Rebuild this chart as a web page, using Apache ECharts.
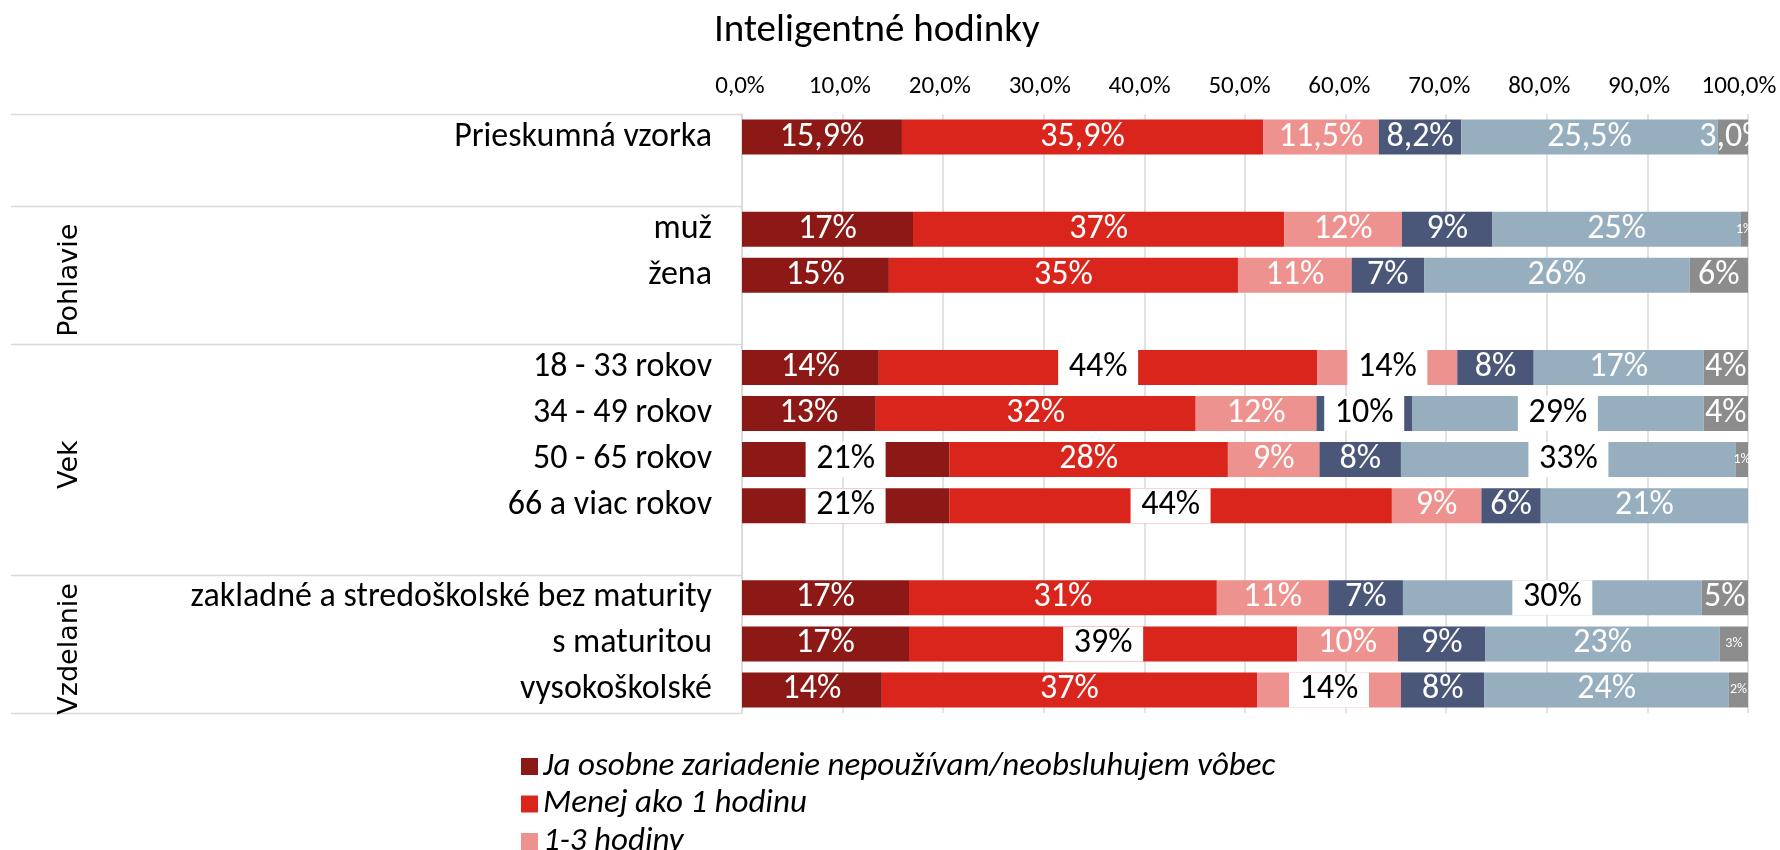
<!DOCTYPE html>
<html>
<head>
<meta charset="utf-8">
<script src="https://cdn.jsdelivr.net/npm/echarts@6/dist/echarts.min.js"></script>
<style>
    html, body {margin: 0; padding: 0; background: #fff;}
    #main {width: 1780px; height: 850px;}
</style>
</head>
<body>
<div id="main"></div>
<script>
// kategorie (prazdne riadky oddeluju skupiny)
var categories = ['Prieskumná vzorka', '', 'muž', 'žena', '', '18 - 33 rokov', '34 - 49 rokov',
    '50 - 65 rokov', '66 a viac rokov', '', 'zakladné a stredoškolské bez maturity', 's maturitou', 'vysokoškolské'];

var seriesNames = ['Ja osobne zariadenie nepoužívam/neobsluhujem vôbec', 'Menej ako 1 hodinu', '1-3 hodiny',
    '3-5 hodín', 'Viac ako 5 hodín', 'Neviem'];

// hodnoty v %
var nepouzivam = [15.9, null, 17.0, 14.6, null, 13.6, 13.3, 20.6, 20.6, null, 16.6, 16.6, 13.9];
var menej1 = [35.9, null, 36.9, 34.7, null, 43.6, 31.8, 27.7, 44.0, null, 30.6, 38.6, 37.3];
var hodiny13 = [11.5, null, 11.7, 11.3, null, 13.9, 12.0, 9.1, 8.9, null, 11.1, 10.0, 14.3];
var hodiny35 = [8.2, null, 9.0, 7.2, null, 7.6, 9.5, 8.1, 5.9, null, 7.4, 8.7, 8.3];
var viac5 = [25.5, null, 24.7, 26.4, null, 16.9, 29.0, 33.3, 20.6, null, 29.7, 23.3, 24.3];
var neviem = [3.0, null, 0.7, 5.8, null, 4.4, 4.4, 1.2, 0, null, 4.6, 2.8, 1.9];

var xTicks = [0, 10, 20, 30, 40, 50, 60, 70, 80, 90, 100];

// skupiny: nazov, prvy a posledny riadok (vratane prazdneho)
var groups = [
    {name: 'Pohlavie', from: 2, to: 5},
    {name: 'Vek', from: 5, to: 10},
    {name: 'Vzdelanie', from: 10, to: 13}
];
var groupLines = [0, 2, 5, 10, 13];

var colors = ['#8c1915', '#da251d', '#ee928f', '#4a5778', '#97aebe', '#8c8c8c'];

// popisky s bielym podkladom: [seria, riadok]
var boxedLabels = [[1, 5], [2, 5], [3, 6], [4, 6], [0, 7], [4, 7], [0, 8], [1, 8], [4, 10], [1, 11], [2, 12]];

var font = 'Carlito, Calibri, Lato, sans-serif';
var gridLeft = 742, gridTop = 114, gridRight = 32, gridBottom = 137;
var plotHeight = 850 - gridTop - gridBottom;
var rowH = plotHeight / categories.length;

function isBoxed(s, i) {
    for (var k = 0; k < boxedLabels.length; k++) {
        if (boxedLabels[k][0] === s && boxedLabels[k][1] === i) return true;
    }
    return false;
}

function fmt(v, i) {
    if (!v) return '';
    if (i === 0) return v.toFixed(1).replace('.', ',') + '%';
    return Math.round(v) + '%';
}

function buildData(arr, s) {
    return arr.map(function (v, i) {
        if (v === null) return null;
        var label = {formatter: fmt(v, i)};
        if (isBoxed(s, i)) {
            label.color = '#000';
            label.backgroundColor = '#fff';
            label.width = 80;
            label.height = 35;
            label.lineHeight = 35;
            label.align = 'center';
        } else if (v < 2.95) {
            label.fontSize = 14;
        }
        return {value: v, label: label};
    });
}

var allData = [nepouzivam, menej1, hodiny13, hodiny35, viac5, neviem];
var series = allData.map(function (arr, s) {
    return {
        name: seriesNames[s],
        type: 'bar',
        stack: 'total',
        barWidth: 35,
        itemStyle: {color: colors[s]},
        label: {
            show: true,
            position: 'inside',
            color: '#fff',
            fontSize: 34,
            fontFamily: font
        },
        data: buildData(arr, s)
    };
});

// popisky osi x su v exceli mierne posunute dolava
var tickRich = {};
xTicks.forEach(function (t) {
    tickRich['t' + t] = {padding: [0, 4 + t * 0.14, 0, 0]};
});

// ciary a nazvy skupin vlavo
var graphics = [];
groupLines.forEach(function (r) {
    var y = Math.round(gridTop + r * rowH) + 0.5;
    graphics.push({
        type: 'line',
        shape: {x1: 11, y1: y, x2: gridLeft, y2: y},
        style: {stroke: '#d9d9d9', lineWidth: 1.5}
    });
});
groups.forEach(function (g) {
    graphics.push({
        type: 'text',
        x: 70,
        y: gridTop + (g.from + g.to) / 2 * rowH + 5,
        rotation: Math.PI / 2,
        style: {
            text: g.name,
            font: '27px "DejaVu Sans", sans-serif',
            fill: '#000',
            textAlign: 'center',
            textVerticalAlign: 'middle'
        }
    });
});

var myChart = echarts.init(document.getElementById('main'));
var option = {
    animation: false,
    title: {
        text: 'Inteligentné hodinky',
        left: 709,
        top: 7,
        textStyle: {fontFamily: font, fontSize: 39, fontWeight: 'normal', color: '#000'}
    },
    legend: {
        orient: 'vertical',
        left: 516,
        top: 745,
        height: 400,
        icon: 'rect',
        itemWidth: 17,
        itemHeight: 17,
        itemGap: 4.5,
        data: seriesNames,
        textStyle: {fontFamily: font, fontSize: 33, fontStyle: 'italic', color: '#000', lineHeight: 33}
    },
    grid: {
        left: gridLeft,
        top: gridTop,
        right: gridRight,
        bottom: gridBottom,
        outerBoundsMode: 'none'
    },
    xAxis: {
        type: 'value',
        position: 'top',
        min: xTicks[0],
        max: xTicks[xTicks.length - 1],
        interval: xTicks[1] - xTicks[0],
        axisLine: {show: false},
        axisTick: {show: false},
        splitLine: {lineStyle: {color: '#d9d9d9', width: 1.5}},
        axisLabel: {
            margin: 15,
            fontFamily: font,
            fontSize: 25,
            color: '#000',
            rich: tickRich,
            formatter: function (v) {
                return '{t' + v + '|' + v.toFixed(1).replace('.', ',') + '%}';
            }
        }
    },
    yAxis: {
        type: 'category',
        inverse: true,
        data: categories,
        axisLine: {lineStyle: {color: '#d9d9d9', width: 1.5}},
        axisTick: {show: false},
        axisLabel: {margin: 30, fontFamily: font, fontSize: 34, color: '#000'}
    },
    graphic: graphics,
    series: series
};
myChart.setOption(option);
</script>
</body>
</html>
